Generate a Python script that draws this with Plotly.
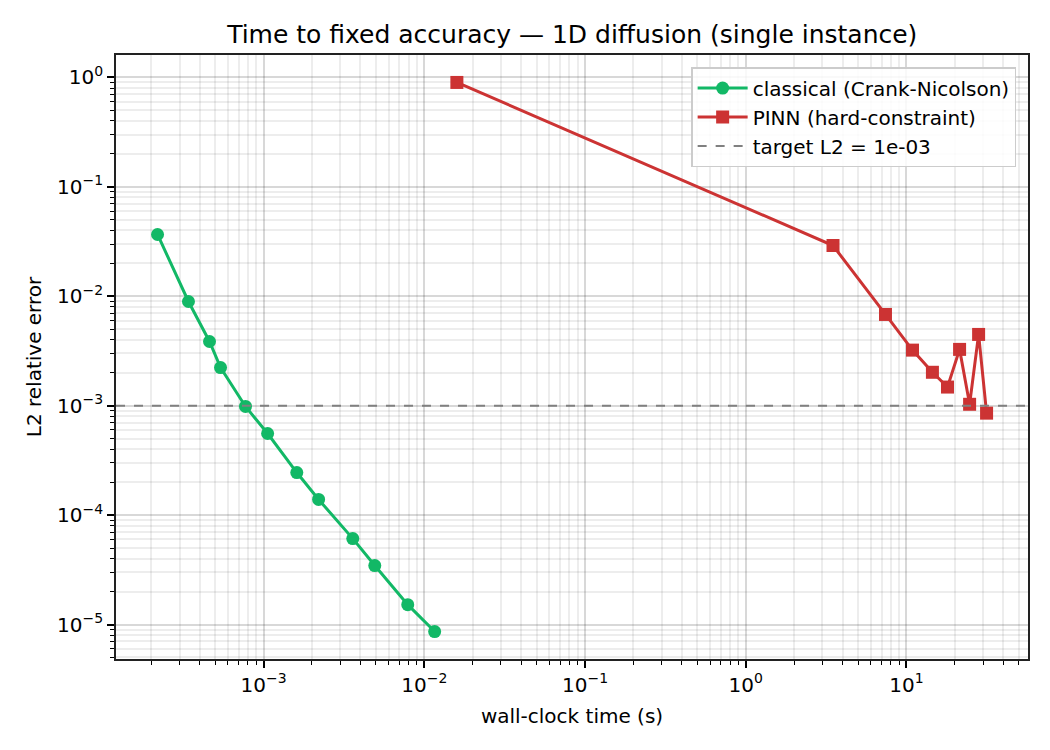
import plotly.graph_objects as go

# Data
classical_time = [2.19e-4, 3.41e-4, 4.61e-4, 5.40e-4, 7.72e-4, 1.06e-3, 1.61e-3,
                  2.20e-3, 3.59e-3, 4.92e-3, 7.89e-3, 1.16e-2]
classical_err = [0.0367, 0.00896, 0.00386, 0.00223, 9.84e-4, 5.57e-4, 2.45e-4,
                 1.39e-4, 6.1e-5, 3.46e-5, 1.52e-5, 8.63e-6]

pinn_time = [0.01595, 3.49, 7.40, 10.9, 14.5, 18.0, 21.4, 24.7, 28.1, 31.5]
pinn_err = [0.90, 0.0291, 0.00682, 0.00322, 0.00202, 0.00148, 0.00327, 1.03e-3,
            0.00448, 8.55e-4]

target_l2 = 1e-3

x_tickvals = [1e-3, 1e-2, 1e-1, 1e0, 1e1]
x_ticktext = ["10<sup>−3</sup>", "10<sup>−2</sup>", "10<sup>−1</sup>", "10<sup>0</sup>", "10<sup>1</sup>"]
y_tickvals = [1e-5, 1e-4, 1e-3, 1e-2, 1e-1, 1e0]
y_ticktext = ["10<sup>−5</sup>", "10<sup>−4</sup>", "10<sup>−3</sup>", "10<sup>−2</sup>", "10<sup>−1</sup>", "10<sup>0</sup>"]

GREEN = "#12b866"
RED = "#cc3333"
FONT = "DejaVu Sans"
FS = 20

fig = go.Figure()
fig.add_trace(go.Scatter(
    x=classical_time, y=classical_err, mode="lines+markers",
    name="classical (Crank-Nicolson)",
    line=dict(color=GREEN, width=3),
    marker=dict(symbol="circle", size=13, color=GREEN),
))
fig.add_trace(go.Scatter(
    x=pinn_time, y=pinn_err, mode="lines+markers",
    name="PINN (hard-constraint)",
    line=dict(color=RED, width=3),
    marker=dict(symbol="square", size=13, color=RED),
))
fig.add_trace(go.Scatter(
    x=[None], y=[None], mode="lines",
    name="target L2 = 1e-03",
    line=dict(color="#808080", width=2, dash="dash"),
))
fig.add_hline(y=target_l2, line=dict(color="#808080", width=2, dash="dash"), layer="above")

grid_major = "rgba(0,0,0,0.085)"
grid_minor = "rgba(0,0,0,0.07)"

common = dict(
    ticks="outside", ticklen=7, tickwidth=1.5, tickcolor="black",
    showline=True, linecolor="#222222", linewidth=1.7, mirror=True,
    showgrid=True, gridcolor=grid_major, gridwidth=1.5,
    minor=dict(dtick="D1", ticks="outside", ticklen=4, tickwidth=1.2, tickcolor="black",
               showgrid=True, gridcolor=grid_minor, gridwidth=1.5),
    zeroline=False,
    tickfont=dict(size=FS, family=FONT, color="black"),
)

fig.update_xaxes(
    type="log", range=[-3.918, 1.756],
    tickvals=x_tickvals, ticktext=x_ticktext,
    title=dict(text="wall-clock time (s)", font=dict(size=FS, family=FONT, color="black"), standoff=13),
    **common,
)
fig.update_yaxes(
    type="log", range=[-5.315, 0.205],
    tickvals=y_tickvals, ticktext=y_ticktext,
    title=dict(text="L2 relative error", font=dict(size=FS, family=FONT, color="black"), standoff=10),
    **common,
)

fig.update_layout(
    width=1050, height=750,
    margin=dict(l=116, r=22, t=55, b=91),
    paper_bgcolor="white", plot_bgcolor="white",
    font=dict(family=FONT, color="black"),
    title=dict(text="Time to fixed accuracy — 1D diffusion (single instance)",
               x=0.545, xanchor="center", y=0.955, yanchor="middle",
               font=dict(size=25, family=FONT, color="black")),
    legend=dict(x=0.987, y=0.98, xanchor="right", yanchor="top",
                bgcolor="rgba(255,255,255,0.85)", bordercolor="#cccccc", borderwidth=1.5,
                font=dict(size=FS, family=FONT, color="black"),
                itemwidth=50, tracegroupgap=0),
    showlegend=True,
)

fig.write_html("out.html")
